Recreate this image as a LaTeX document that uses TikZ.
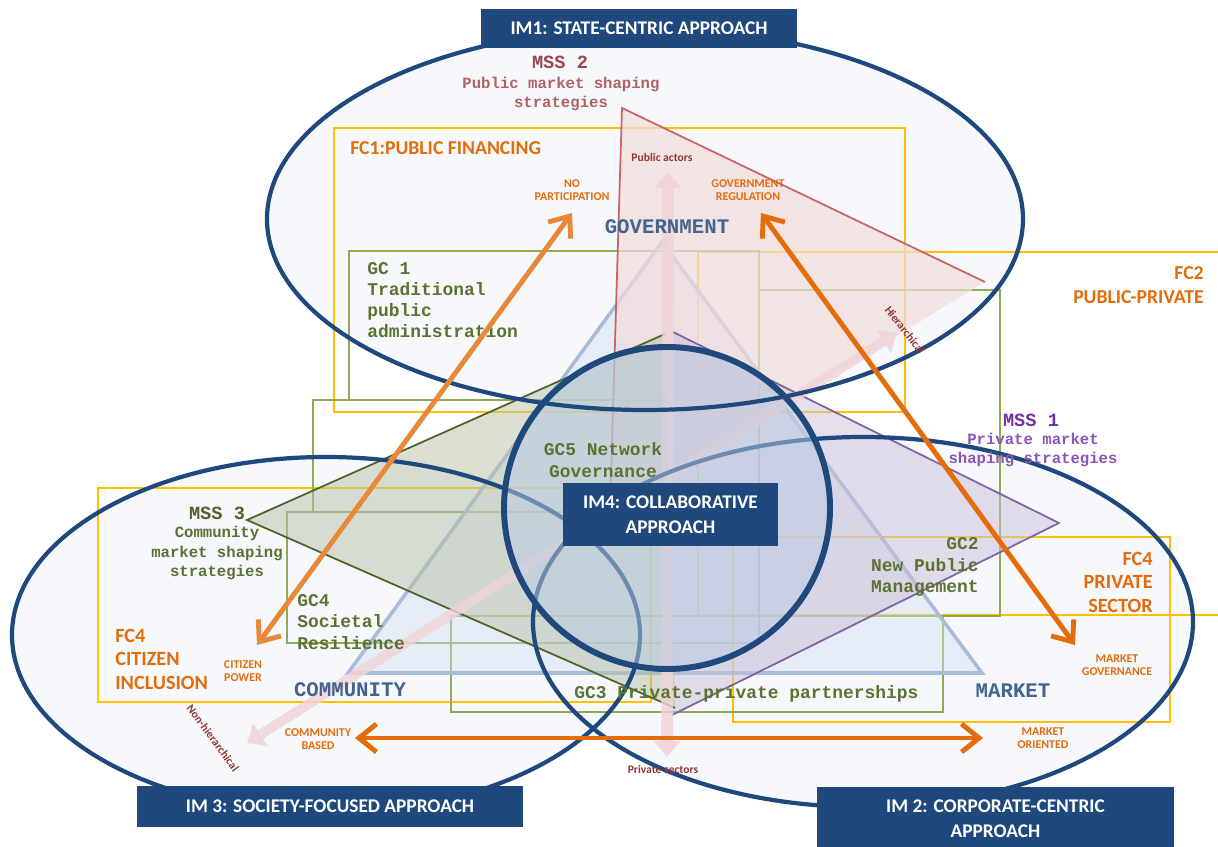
\documentclass[tikz,border=0pt]{standalone}
\usepackage{fontspec}
\setmainfont{Carlito}
\newfontfamily\monof{Liberation Mono}
\usetikzlibrary{arrows.meta}
\definecolor{dblue}{HTML}{1F497D}
\definecolor{efill}{HTML}{F6F8FC}
\definecolor{fcy}{HTML}{FFC000}
\definecolor{gcg}{HTML}{8DAA55}
\definecolor{orng}{HTML}{E46C0A}
\definecolor{orngl}{HTML}{E8893A}
\definecolor{olive}{HTML}{4F6228}
\definecolor{gctxt}{HTML}{5B7330}
\definecolor{purp}{HTML}{7030A0}
\definecolor{purpl}{HTML}{8064A2}
\definecolor{purptxt}{HTML}{8A55B5}
\definecolor{mss2c}{HTML}{A0464B}
\definecolor{mss2l}{HTML}{B06262}
\definecolor{redl}{HTML}{C96466}
\definecolor{pinkf}{HTML}{F2DCDB}
\definecolor{pinkar}{HTML}{F0D3D6}
\definecolor{steel}{HTML}{44648F}
\definecolor{tril}{HTML}{A7BCD6}
\definecolor{trif}{HTML}{D2DEEE}
\definecolor{lav}{HTML}{CCC0DA}
\definecolor{ggreen}{HTML}{B8C2A8}
\definecolor{darkred}{HTML}{953735}
\definecolor{im4f}{HTML}{BCCDE4}
\begin{document}
\begin{tikzpicture}[x=0.02cm,y=-0.02cm,
  imbox/.style={fill=dblue, text=white, font=\fontsize{11}{14}\selectfont\bfseries, align=center, inner sep=0pt},
  fctext/.style={text=orng, font=\fontsize{11.2}{13.4}\selectfont\bfseries, inner sep=0pt},
  smallor/.style={text=orng, font=\fontsize{6.8}{7.4}\selectfont\bfseries, align=center, inner sep=0pt},
  gctext/.style={text=gctxt, font=\monof\bfseries\fontsize{10.2}{12.1}\selectfont, inner sep=0pt},
  bigblue/.style={text=steel, font=\monof\bfseries\fontsize{11.8}{14}\selectfont, inner sep=0pt},
  msshead/.style={font=\monof\bfseries\fontsize{10.6}{12}\selectfont, inner sep=0pt},
  msssub/.style={font=\monof\bfseries\fontsize{8.9}{10.8}\selectfont, align=center, inner sep=0pt},
  pinklab/.style={text=darkred, font=\fontsize{6.6}{7}\selectfont\bfseries, inner sep=0pt},
  fcrect/.style={draw=fcy, line width=1.1pt},
  gcrect/.style={draw=gcg, line width=1.1pt},
  ellline/.style={draw=dblue, line width=2.4pt},
  orarrow/.style={draw=orng, line width=2.8pt, {Straight Barb[length=3.5mm,width=5.6mm]}-{Straight Barb[length=3.5mm,width=5.6mm]}},
  pinkarrow/.style={draw=pinkar, draw opacity=0.8, fill opacity=0.8, {Triangle[length=9pt,width=15pt]}-{Triangle[length=9pt,width=15pt]}},
]
\useasboundingbox (0,0) rectangle (1218,847);
% ellipse fills
\path[fill=efill] (326,635) ellipse [x radius=314, y radius=178];
\path[fill=efill] (863,622) ellipse [x radius=330, y radius=185];
\path[fill=efill] (645,219) ellipse [x radius=378, y radius=191];
% FC rectangles
\draw[fcrect] (334,128) rectangle (905,412);
\draw[fcrect] (1230,252) -- (698,252) -- (698,615) -- (1230,615);
\draw[fcrect] (733,537) rectangle (1170,722);
\draw[fcrect] (98,488) rectangle (651,702);
% GC rectangles
\draw[gcrect] (349,251) rectangle (759,400);
\draw[gcrect] (759,290) rectangle (1000,616);
\draw[gcrect] (313,400) rectangle (759,512);
\draw[gcrect] (287,512) rectangle (759,643);
\draw[gcrect] (451,616) rectangle (943,712);
% base triangle
\draw[draw=tril, line width=2pt, fill=trif, fill opacity=0.45] (662,242) -- (982,673) -- (348,673) -- cycle;
% MSS2 triangle
\path[fill=pinkf, fill opacity=0.7] (622,108) -- (985,282) -- (610,510) -- cycle;
\draw[draw=redl, line width=1pt] (610,510) -- (622,108) -- (985,282);
% MSS1 triangle
\path[fill=lav, fill opacity=0.5] (673,332) -- (1059,523) -- (672,715) -- cycle;
\draw[draw=purpl, line width=1pt] (673,332) -- (1059,523) -- (672,715);
% MSS3 triangle
\path[fill=ggreen, fill opacity=0.5] (247,520) -- (665,334) -- (675,708) -- cycle;
\draw[draw=olive, line width=1pt] (665,334) -- (247,520) -- (675,708);
% pink arrows
\coordinate (pubTip) at (668,172);
\coordinate (privTip) at (667,757);
\coordinate (hierTip) at (897,333);
\coordinate (nonhTip) at (247,743);
\draw[pinkarrow, line width=6.8pt] (privTip) -- (pubTip);
\draw[pinkarrow, line width=5.6pt] (nonhTip) -- (hierTip);
% outlines of IM3, IM2
\draw[ellline] (326,635) ellipse [x radius=314, y radius=178];
\draw[ellline] (863,622) ellipse [x radius=330, y radius=185];
% IM4 circle
\draw[draw=dblue, line width=3.4pt, fill=im4f, fill opacity=0.5] (667,508) ellipse [x radius=163, y radius=161];
% IM1 outline
\draw[ellline] (645,219) ellipse [x radius=378, y radius=191];
% texts
\node[msshead, text=mss2c] (mss2h) at (560,62) {MSS 2};
\node[msssub, text=mss2l] (mss2s) at (561,94) {Public market shaping\\strategies};
\node[fctext, anchor=west] (fc1) at (350,148) {FC1:PUBLIC FINANCING};
\node[smallor] (nopart) at (572,190) {NO\\PARTICIPATION};
\node[pinklab] (pubact) at (662,157) {Public actors};
\node[smallor] (govreg) at (748,190) {GOVERNMENT\\REGULATION};
\node[bigblue] (gov) at (667,227) {GOVERNMENT};
\node[gctext, anchor=west, align=left] (gc1) at (367,300) {GC 1\\Traditional\\public\\administration};
\node[fctext, anchor=east, align=right] (fc2) at (1204,285) {FC2\\PUBLIC-PRIVATE};
\node[pinklab, rotate=-52] (hier) at (905,330) {Hierarchical};
\node[msshead, text=purp] (mss1h) at (1031,420) {MSS 1};
\node[msssub, text=purptxt] (mss1s) at (1033,450) {Private market\\shaping strategies};
\node[gctext, align=center] (gc5) at (603,460) {GC5 Network\\Governance};
\node[msshead, text=olive] (mss3h) at (217,513) {MSS 3};
\node[msssub, text=gctxt, font=\monof\bfseries\fontsize{8.9}{11}\selectfont] (mss3s) at (217,553) {Community\\market shaping\\strategies};
\node[gctext, anchor=west, align=left] (gc4) at (297,622) {GC4\\Societal\\Resilience};
\node[gctext, anchor=east, align=right] (gc2) at (979,567) {GC2\\New Public\\Management};
\node[fctext, anchor=east, align=right, font=\fontsize{11.5}{13.4}\selectfont\bfseries] (fc4p) at (1153,582) {FC4\\PRIVATE\\SECTOR};
\node[fctext, anchor=west, align=left, font=\fontsize{11.5}{13.4}\selectfont\bfseries] (fc4c) at (115,659) {FC4\\CITIZEN\\INCLUSION};
\node[smallor] (citpow) at (243,671) {CITIZEN\\POWER};
\node[bigblue] (comm) at (350,690) {COMMUNITY};
\node[gctext, anchor=west] (gc3) at (574,694) {GC3 Private-private partnerships};
\node[bigblue] (market) at (1013,691) {MARKET};
\node[smallor] (mgov) at (1117,665) {MARKET\\GOVERNANCE};
\node[smallor] (cbased) at (318,739) {COMMUNITY\\BASED};
\node[smallor] (morient) at (1043,738) {MARKET\\ORIENTED};
\node[pinklab] (privsec) at (663,769) {Private sectors};
\node[pinklab, rotate=-53.6] (nonh) at (213,738) {Non-hierarchical};
% orange arrows
\coordinate (npTip) at (572,213);
\coordinate (cpTip) at (257,645);
\coordinate (grTip) at (761,213);
\coordinate (mgTip) at (1075,645);
\coordinate (cbTip) at (355,738);
\coordinate (moTip) at (983,738);
\draw[orarrow, draw=orngl] (cpTip) -- (npTip);
\draw[orarrow] (grTip) -- (mgTip);
\draw[orarrow] (cbTip) -- (moTip);
% boxes
\node[imbox, minimum width=6.32cm, minimum height=0.78cm] (im1) at (639,28.5) {IM1: STATE-CENTRIC APPROACH};
\node[imbox, minimum width=7.72cm, minimum height=0.82cm] (im3) at (330,806.5) {IM 3: SOCIETY-FOCUSED APPROACH};
\node[imbox, minimum width=7.14cm, minimum height=1.26cm] (im2) at (995.5,818.5) {IM 2: CORPORATE-CENTRIC\\APPROACH};
\node[imbox, minimum width=4.3cm, minimum height=1.26cm] (im4) at (670.5,514.5) {IM4: COLLABORATIVE\\APPROACH};
\end{tikzpicture}
\end{document}
